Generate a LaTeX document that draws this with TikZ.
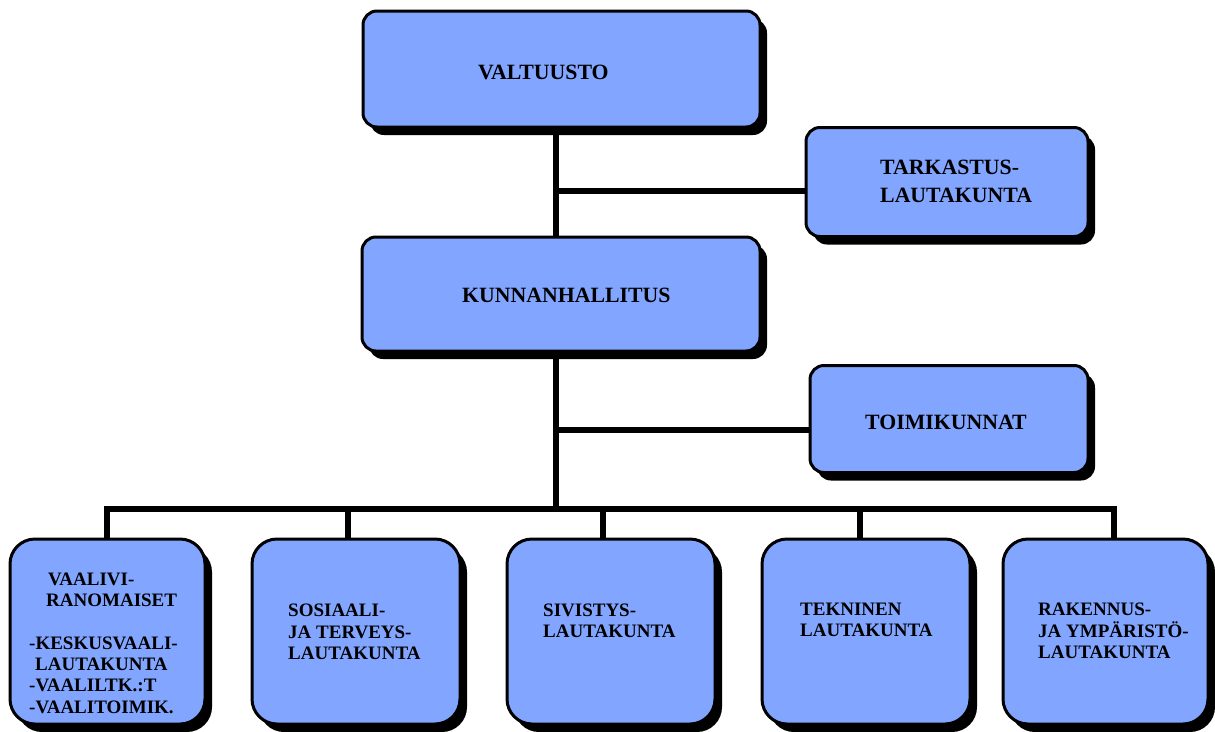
\documentclass[tikz,border=0pt]{standalone}
\usepackage{fontspec}
\setmainfont{Liberation Serif}
\usetikzlibrary{shadows}
\definecolor{boxblue}{RGB}{130,165,255}
\begin{document}
\begin{tikzpicture}[x=1pt,y=-1pt,
  box/.style={draw=black, line width=3pt, fill=boxblue, inner sep=0pt,
    drop shadow={shadow xshift=7pt, shadow yshift=-8pt, fill=black, opacity=1}},
  topbox/.style={box, rounded corners=14pt},
  lowbox/.style={box, rounded corners=25pt},
  bigtxt/.style={inner sep=0pt, anchor=west, align=left,
    font=\fontsize{21.8pt}{28pt}\selectfont\bfseries},
  smalltxt/.style={inner sep=0pt, anchor=west, align=left,
    font=\fontsize{19pt}{21.3pt}\selectfont\bfseries},
  conn/.style={line width=5.5pt, line join=miter}
]
\useasboundingbox (0,0) rectangle (1215,731);
\clip (0,0) rectangle (1215,731);

% boxes
\node[topbox, minimum width=397pt, minimum height=116pt] (valt) at (561.5,69) {};
\node[topbox, minimum width=282pt, minimum height=109pt] (tark) at (947,182) {};
\node[topbox, minimum width=398pt, minimum height=114pt] (kunn) at (561,294) {};
\node[topbox, minimum width=278pt, minimum height=107pt] (toim) at (949,419) {};

\node[lowbox, minimum width=195pt, minimum height=185pt] (b1) at (107.5,631.5) {};
\node[lowbox, minimum width=208pt, minimum height=185pt] (b2) at (356,631.5) {};
\node[lowbox, minimum width=208pt, minimum height=185pt] (b3) at (611,631.5) {};
\node[lowbox, minimum width=208pt, minimum height=185pt] (b4) at (866,631.5) {};
\node[lowbox, minimum width=205pt, minimum height=185pt] (b5) at (1105.5,631.5) {};

% texts
\node[bigtxt] (valtt) at (478,72) {VALTUUSTO};
\node[bigtxt] (tarkt) at (880,181) {TARKASTUS-\\LAUTAKUNTA};
\node[bigtxt] (kunnt) at (462,295) {KUNNANHALLITUS};
\node[bigtxt] (toimt) at (865,422) {TOIMIKUNNAT};

\node[smalltxt] (t1) at (29,643) {\hspace*{19pt}VAALIVI-\\\hspace*{17pt}RANOMAISET\\[21.3pt]-KESKUSVAALI-\\\hspace*{6pt}LAUTAKUNTA\\-VAALILTK.:T\\-VAALITOIMIK.};
\node[smalltxt] (t2) at (288,632) {SOSIAALI-\\JA TERVEYS-\\LAUTAKUNTA};
\node[smalltxt] (t3) at (543,621) {SIVISTYS-\\LAUTAKUNTA};
\node[smalltxt] (t4) at (800,620) {TEKNINEN\\LAUTAKUNTA};
\node[smalltxt] (t5) at (1038,631) {RAKENNUS-\\JA YMPÄRISTÖ-\\LAUTAKUNTA};

% connector coordinates
\coordinate (tx) at (556,0);
\coordinate (j1) at (556,191);
\coordinate (j2) at (556,430);
\coordinate (bus) at (556,509);
\coordinate (d1) at (107,509);
\coordinate (d2) at (348,509);
\coordinate (d3) at (603,509);
\coordinate (d4) at (860,509);
\coordinate (d5) at (1114,509);

% connectors
\draw[conn] (tx |- valt.south) -- (tx |- kunn.north);
\draw[conn] (j1) -- (j1 -| tark.west);
\draw[conn] (tx |- kunn.south) -- (bus);
\draw[conn] (j2) -- (j2 -| toim.west);
\draw[conn] (d1 |- b1.north) -- (d1) -- (d5) -- (d5 |- b5.north);
\draw[conn] (d2) -- (d2 |- b2.north);
\draw[conn] (d3) -- (d3 |- b3.north);
\draw[conn] (d4) -- (d4 |- b4.north);
\end{tikzpicture}
\end{document}
